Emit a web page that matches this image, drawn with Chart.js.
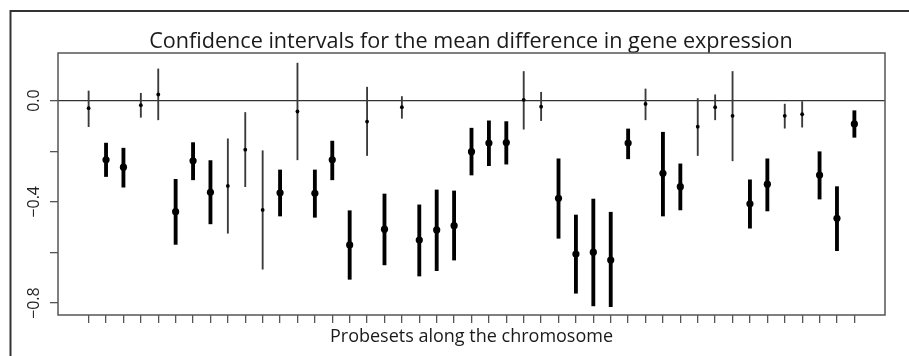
<!DOCTYPE html>
<html lang="en">
<head>
<meta charset="UTF-8">
<title>Confidence intervals</title>
<script src="https://cdn.jsdelivr.net/npm/chart.js"></script>
<style>
  body { margin: 0; background: #fff; }
  #wrap { width: 909px; height: 356px; position: relative; }
</style>
</head>
<body>
<div id="wrap"><canvas id="ciChart"></canvas></div>
<script>
// probeset index along the chromosome
const probes = [1,2,3,4,5,6,7,8,9,10,11,12,13,14,15,16,17,18,19,20,21,22,23,24,25,26,27,28,29,30,31,32,33,34,35,36,37,38,39,40,41,42,43,44,45];
// mean difference and interval bounds
const mid = [-0.030,-0.234,-0.263,-0.018,0.024,-0.439,-0.238,-0.362,-0.337,-0.194,-0.432,-0.364,-0.043,-0.366,-0.234,-0.570,-0.083,-0.508,-0.026,-0.551,-0.511,-0.494,-0.202,-0.168,-0.166,0.003,-0.024,-0.386,-0.606,-0.599,-0.630,-0.168,-0.013,-0.287,-0.340,-0.103,-0.026,-0.060,-0.408,-0.330,-0.060,-0.054,-0.294,-0.465,-0.092];
const lo  = [-0.103,-0.300,-0.342,-0.066,-0.076,-0.568,-0.313,-0.487,-0.524,-0.340,-0.666,-0.456,-0.234,-0.461,-0.313,-0.706,-0.217,-0.649,-0.070,-0.693,-0.672,-0.630,-0.294,-0.257,-0.251,-0.113,-0.079,-0.544,-0.761,-0.811,-0.814,-0.230,-0.076,-0.456,-0.432,-0.217,-0.076,-0.238,-0.504,-0.436,-0.109,-0.105,-0.389,-0.593,-0.145];
const hi  = [0.038,-0.168,-0.188,0.029,0.125,-0.311,-0.166,-0.237,-0.151,-0.047,-0.198,-0.274,0.148,-0.274,-0.160,-0.435,0.053,-0.369,0.016,-0.412,-0.353,-0.357,-0.109,-0.080,-0.083,0.115,0.033,-0.230,-0.452,-0.389,-0.441,-0.112,0.046,-0.125,-0.250,0.008,0.023,0.115,-0.313,-0.230,-0.014,-0.004,-0.202,-0.340,-0.040];
// 1 = interval drawn bold (excludes zero)
const sig = [0,1,1,0,0,1,1,1,0,0,0,1,0,1,1,1,0,1,0,1,1,1,1,1,1,0,0,1,1,1,1,1,0,1,1,0,0,0,1,1,0,0,1,1,1];

const yTicks = [-0.8, -0.6, -0.4, -0.2, 0.0];
const yLabelVals = [0.0, -0.4, -0.8];
const yLabels = ['0.0', '\u22120.4', '\u22120.8'];

const boldBars = [], thinBars = [], points = [];
probes.forEach((p, i) => {
    const item = { x: p, y: [lo[i], hi[i]] };
    if (sig[i]) boldBars.push(item); else thinBars.push(item);
    points.push({ x: p, y: mid[i] });
});

const frame = {
    id: 'frame',
    beforeDraw(chart) {
        const ctx = chart.ctx;
        ctx.save();
        ctx.strokeStyle = '#333';
        ctx.lineWidth = 2;
        ctx.beginPath();
        ctx.moveTo(10.5, 356);
        ctx.lineTo(10.5, 11);
        ctx.lineTo(909, 11);
        ctx.stroke();
        ctx.restore();
    },
    afterDraw(chart) {
        const ctx = chart.ctx;
        const a = chart.chartArea;
        const y = chart.scales.y;
        ctx.save();
        ctx.strokeStyle = '#555';
        ctx.lineWidth = 1.5;
        ctx.strokeRect(a.left, a.top, a.right - a.left, a.bottom - a.top);
        ctx.fillStyle = '#222';
        ctx.font = '16px "Open Sans"';
        ctx.textAlign = 'center';
        ctx.textBaseline = 'middle';
        yLabelVals.forEach((v, i) => {
            ctx.save();
            ctx.translate(34, y.getPixelForValue(v));
            ctx.rotate(-Math.PI / 2);
            ctx.fillText(yLabels[i], 0, 0);
            ctx.restore();
        });
        ctx.restore();
    }
};

new Chart(document.getElementById('ciChart'), {
    type: 'scatter',
    data: {
        datasets: [
            {
                type: 'line',
                data: [{ x: -0.76, y: 0 }, { x: 46.76, y: 0 }],
                borderColor: '#333',
                borderWidth: 1.2,
                pointRadius: 0,
                order: 3
            },
            {
                type: 'bar',
                data: thinBars,
                backgroundColor: '#3a3a3a',
                barThickness: 1.2,
                grouped: false,
                order: 2
            },
            {
                type: 'bar',
                data: boldBars,
                backgroundColor: '#000',
                barThickness: 3.2,
                grouped: false,
                order: 2
            },
            {
                data: points,
                backgroundColor: '#000',
                borderWidth: 0,
                pointRadius: ctx => sig[ctx.dataIndex] ? 3.6 : 1.9,
                order: 1
            }
        ]
    },
    options: {
        responsive: true,
        maintainAspectRatio: false,
        animation: false,
        layout: { padding: { left: 57, right: 24, top: 0, bottom: 0 } },
        plugins: {
            legend: { display: false },
            tooltip: { enabled: false },
            title: {
                display: true,
                text: 'Confidence intervals for the mean difference in gene expression',
                color: '#1a1a1a',
                font: { family: 'Open Sans', size: 21.6, weight: 'normal', lineHeight: 1 },
                padding: { top: 31, bottom: 0.4 }
            }
        },
        scales: {
            x: {
                type: 'linear',
                min: -0.76,
                max: 46.76,
                offset: false,
                afterBuildTicks: s => { s.ticks = probes.map(v => ({ value: v })); },
                afterFit: s => { s.height = 41; },
                ticks: { display: false },
                grid: { drawOnChartArea: false, drawTicks: true, tickLength: 8, color: '#555', lineWidth: 1.3, offset: false },
                border: { display: false },
                title: {
                    display: true,
                    text: 'Probesets along the chromosome',
                    color: '#1a1a1a',
                    font: { family: 'Open Sans', size: 18 },
                    padding: { top: 0, bottom: 8 }
                }
            },
            y: {
                min: -0.847,
                max: 0.188,
                afterBuildTicks: s => { s.ticks = yTicks.map(v => ({ value: v })); },
                afterFit: s => { s.width = 1; },
                ticks: { display: false },
                grid: { drawOnChartArea: false, drawTicks: true, tickLength: 8, color: '#555', lineWidth: 1.3 },
                border: { display: false }
            }
        }
    },
    plugins: [frame]
});
</script>
</body>
</html>
